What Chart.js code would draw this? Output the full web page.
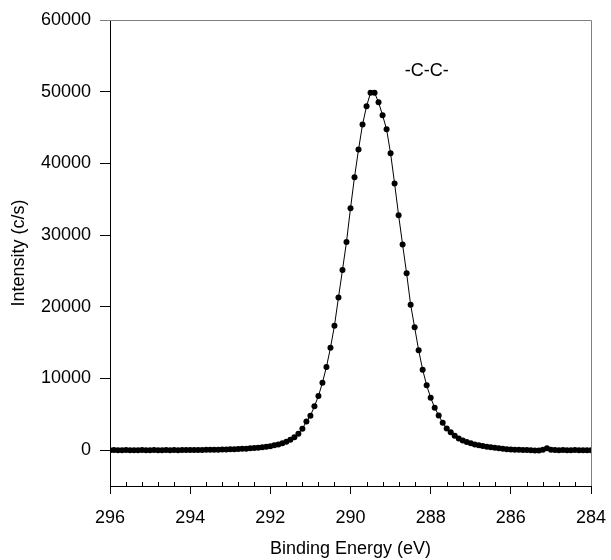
<!DOCTYPE html>
<html>
<head>
<meta charset="utf-8">
<script src="https://cdn.jsdelivr.net/npm/chart.js@4.4.1/dist/chart.umd.min.js"></script>
<style>
  body { margin: 0; background: #fff; }
  canvas { display: block; }
</style>
</head>
<body>
<canvas id="xps" width="611" height="560"></canvas>
<script>
// binding energy (eV), one point every 0.1 eV
const energy = [
  296.0, 295.9, 295.8, 295.7, 295.6, 295.5, 295.4, 295.3, 295.2, 295.1,
  295.0, 294.9, 294.8, 294.7, 294.6, 294.5, 294.4, 294.3, 294.2, 294.1,
  294.0, 293.9, 293.8, 293.7, 293.6, 293.5, 293.4, 293.3, 293.2, 293.1,
  293.0, 292.9, 292.8, 292.7, 292.6, 292.5, 292.4, 292.3, 292.2, 292.1,
  292.0, 291.9, 291.8, 291.7, 291.6, 291.5, 291.4, 291.3, 291.2, 291.1,
  291.0, 290.9, 290.8, 290.7, 290.6, 290.5, 290.4, 290.3, 290.2, 290.1,
  290.0, 289.9, 289.8, 289.7, 289.6, 289.5, 289.4, 289.3, 289.2, 289.1,
  289.0, 288.9, 288.8, 288.7, 288.6, 288.5, 288.4, 288.3, 288.2, 288.1,
  288.0, 287.9, 287.8, 287.7, 287.6, 287.5, 287.4, 287.3, 287.2, 287.1,
  287.0, 286.9, 286.8, 286.7, 286.6, 286.5, 286.4, 286.3, 286.2, 286.1,
  286.0, 285.9, 285.8, 285.7, 285.6, 285.5, 285.4, 285.3, 285.2, 285.1,
  285.0, 284.9, 284.8, 284.7, 284.6, 284.5, 284.4, 284.3, 284.2, 284.1,
  284.0
];

// intensity (c/s)
const intensity = [
  0, 10, -10, 0, 10, 0, -10, 0, 10, 0,
  0, 10, -10, 0, 10, 0, 10, 0, 10, 20,
  10, 20, 30, 30, 40, 50, 60, 70, 80, 100,
  110, 130, 150, 180, 210, 250, 290, 340, 400, 470,
  560, 670, 800, 970, 1180, 1450, 1800, 2300, 2980, 4010,
  4800, 6110, 7550, 9410, 11610, 14270, 17360, 21300, 25130, 29050,
  33750, 38080, 41920, 45410, 47970, 49850, 49850, 48530, 46710, 44760,
  41400, 37200, 32770, 28670, 24660, 20280, 17140, 13940, 11230, 9050,
  7310, 5920, 4850, 3820, 3030, 2480, 2000, 1640, 1350, 1120,
  950, 800, 680, 570, 480, 400, 320, 250, 190, 140,
  100, 70, 50, 30, 10, -20, -50, -40, 40, 250,
  60, 20, 0, 10, -10, 0, 10, -10, 0, 0,
  0
];

const xTicks = [296, 294, 292, 290, 288, 286, 284];
const yTicks = [0, 10000, 20000, 30000, 40000, 50000, 60000];

const peakLabel = { text: "-C-C-", x: 288.1, y: 52900 };

const FONT = "'Liberation Sans', Arial, sans-serif";

const points = energy.map((e, i) => ({ x: e, y: intensity[i] }));

// frame (grey top/right), inward minor ticks, peak label
const extras = {
  id: "extras",
  afterDraw(chart) {
    const { ctx, chartArea: a, scales } = chart;
    ctx.save();
    ctx.strokeStyle = "#808080";
    ctx.lineWidth = 1;
    ctx.beginPath();
    ctx.moveTo(a.left - 10, a.top + 0.5);
    ctx.lineTo(a.right + 0.5, a.top + 0.5);
    ctx.lineTo(a.right + 0.5, a.bottom);
    ctx.stroke();

    ctx.strokeStyle = "#000";
    ctx.beginPath();
    for (let v = 284; v <= 296.001; v += 0.4) {
      const r = Math.round(v * 10) / 10;
      if (Math.abs(r / 2 - Math.round(r / 2)) < 0.01) continue;
      const px = Math.round(scales.x.getPixelForValue(r)) + 0.5;
      ctx.moveTo(px, a.bottom);
      ctx.lineTo(px, a.bottom - 4);
    }
    ctx.stroke();

    ctx.fillStyle = "#000";
    ctx.font = "18px " + FONT;
    ctx.textAlign = "center";
    ctx.textBaseline = "middle";
    ctx.fillText(peakLabel.text,
      scales.x.getPixelForValue(peakLabel.x),
      scales.y.getPixelForValue(peakLabel.y));
    ctx.restore();
  }
};

new Chart(document.getElementById("xps"), {
  type: "line",
  data: {
    datasets: [{
      data: points,
      borderColor: "#000",
      borderWidth: 1,
      backgroundColor: "#000",
      pointRadius: 3,
      pointBorderWidth: 0,
      pointBackgroundColor: "#000",
      tension: 0,
      fill: false
    }]
  },
  options: {
    responsive: false,
    animation: false,
    layout: { padding: { top: 20, right: 20, left: 0, bottom: 0 } },
    plugins: {
      legend: { display: false },
      tooltip: { enabled: false }
    },
    scales: {
      x: {
        type: "linear",
        reverse: true,
        min: 284,
        max: 296,
        afterBuildTicks: s => { s.ticks = xTicks.map(v => ({ value: v })); },
        afterFit: s => { s.height = 74; s.paddingLeft = 0; s.paddingRight = 0; },
        grid: { drawOnChartArea: false, tickLength: 8, color: "#000" },
        border: { color: "#000" },
        ticks: {
          color: "#000", font: { size: 18, family: FONT }, padding: 13, maxRotation: 0,
          callback: v => String(v)
        },
        title: {
          display: true,
          text: "Binding Energy (eV)",
          color: "#000",
          font: { size: 18, family: FONT },
          padding: { top: 0, bottom: 0 }
        }
      },
      y: {
        min: -5000,
        max: 60000,
        afterBuildTicks: s => { s.ticks = yTicks.map(v => ({ value: v })); },
        afterFit: s => { s.width = 110; s.paddingTop = 0; s.paddingBottom = 0; },
        grid: { drawOnChartArea: false, tickLength: 10, color: "#000" },
        border: { color: "#000" },
        ticks: {
          color: "#000", font: { size: 18, family: FONT }, padding: 9,
          callback: v => String(v)
        },
        title: {
          display: true,
          text: "Intensity (c/s)",
          color: "#000",
          font: { size: 18, family: FONT },
          padding: { top: 8, bottom: 0 }
        }
      }
    }
  },
  plugins: [extras]
});
</script>
</body>
</html>
